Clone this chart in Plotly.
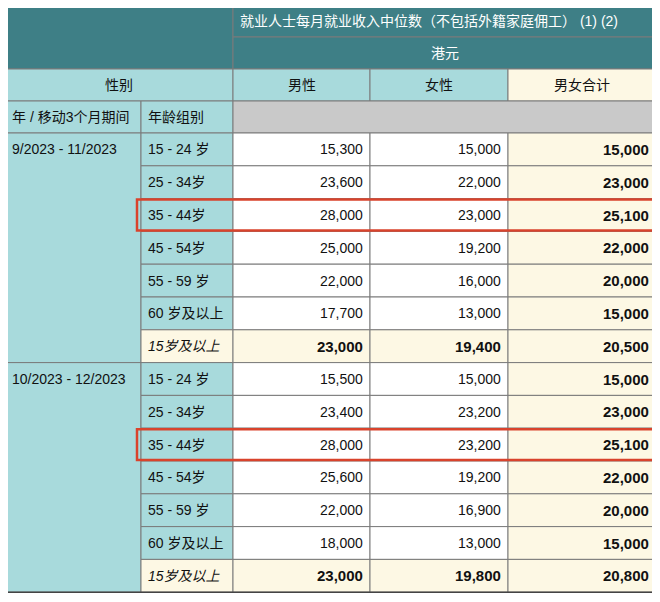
import plotly.graph_objects as go

periods = ["9/2023 - 11/2023", "10/2023 - 12/2023"]
age_groups = ["15 - 24 岁", "25 - 34岁", "35 - 44岁", "45 - 54岁", "55 - 59 岁", "60 岁及以上", "15岁及以上"]
male = [[15300, 23600, 28000, 25000, 22000, 17700, 23000],
        [15500, 23400, 28000, 25600, 22000, 18000, 23000]]
female = [[15000, 22000, 23000, 19200, 16000, 13000, 19400],
          [15000, 23200, 23200, 19200, 16900, 13000, 19800]]
total = [[15000, 23000, 25100, 22000, 20000, 15000, 20500],
         [15000, 23000, 25100, 22000, 20000, 15000, 20800]]
highlight_age = "35 - 44岁"

title = "就业人士每月就业收入中位数（不包括外籍家庭佣工） (1) (2)"
unit = "港元"
sex_labels = ["男性", "女性", "男女合计"]

DARK = "#3e7f86"
LIGHT = "#a8dadc"
CREAM = "#fdf8e4"
GRAY = "#c9c9c9"
LINE = "#7a7a7a"
FONT = "Liberation Sans, Noto Sans CJK SC"

cols = [5, 141, 233, 370, 508, 656]
top = 5
hdr_h = 32
row_h = 32.8
PAD = 8  # page body margin

shapes, ann = [], []


def cell(x0, x1, y0, y1, fill, text="", align="center", color="#111", bold=False, italic=False, size=14):
    shapes.append(dict(type="rect", x0=x0, x1=x1, y0=y0, y1=y1, fillcolor=fill,
                       line=dict(color=LINE, width=1), layer="below"))
    if text:
        if bold:
            text = "<b>" + text + "</b>"
        if italic:
            text = "<i>" + text + "</i>"
        if align == "left":
            x, xa = x0 + 5, "left"
        elif align == "right":
            x, xa = x1 - 5, "right"
        else:
            x, xa = (x0 + x1) / 2, "center"
        ann.append(dict(x=x, y=(y0 + y1) / 2, text=text, showarrow=False, xanchor=xa,
                        yanchor="middle", font=dict(size=size, color=color, family=FONT)))


# header
y = top
cell(cols[0], cols[2], y, y + 2 * hdr_h, DARK)
cell(cols[2], cols[5], y, y + hdr_h, DARK, title, align="left", color="white", size=14)
cell(cols[2], cols[5], y + hdr_h, y + 2 * hdr_h, DARK, unit, color="white")
y += 2 * hdr_h
cell(cols[0], cols[2], y, y + hdr_h, LIGHT, "性别")
for i, s in enumerate(sex_labels):
    cell(cols[2 + i], cols[3 + i], y, y + hdr_h, CREAM if i == 2 else LIGHT, s)
y += hdr_h
cell(cols[0], cols[1], y, y + hdr_h, LIGHT, "年 / 移动3个月期间", align="left")
cell(cols[1], cols[2], y, y + hdr_h, LIGHT, "年龄组别", align="left")
cell(cols[2], cols[5], y, y + hdr_h, GRAY)
y += hdr_h

for p, period in enumerate(periods):
    n = len(age_groups)
    shapes.append(dict(type="rect", x0=cols[0], x1=cols[1], y0=y, y1=y + n * row_h,
                       fillcolor=LIGHT, line=dict(color=LINE, width=1), layer="below"))
    ann.append(dict(x=cols[0] + 5, y=y + row_h / 2, text=period, showarrow=False, xanchor="left",
                    font=dict(size=14, color="#111", family=FONT)))
    for r, age in enumerate(age_groups):
        y0, y1 = y + r * row_h, y + (r + 1) * row_h
        is_tot = r == n - 1
        cell(cols[1], cols[2], y0, y1, CREAM if is_tot else LIGHT, age, align="left", italic=is_tot)
        vals = [male[p][r], female[p][r], total[p][r]]
        for c, v in enumerate(vals):
            fill = CREAM if (is_tot or c == 2) else "white"
            cell(cols[2 + c], cols[3 + c], y0, y1, fill, f"{v:,}", align="right",
                 bold=(is_tot or c == 2), size=15 if (is_tot or c == 2) else 14)
        if age == highlight_age:
            shapes.append(dict(type="rect", x0=cols[1] - 4, x1=cols[5], y0=y0 + 1, y1=y1 - 1,
                               line=dict(color="#d9432c", width=2.5), layer="above"))
    y += n * row_h

# outer border
shapes.append(dict(type="rect", x0=cols[0], x1=cols[5], y0=top, y1=y, line=dict(color="#444", width=1.5)))

fig = go.Figure()
fig.update_layout(
    width=660 - 2 * PAD, height=602 - 2 * PAD, margin=dict(l=0, r=0, t=0, b=0),
    paper_bgcolor="white", plot_bgcolor="white",
    xaxis=dict(range=[PAD, 660 - PAD], visible=False, fixedrange=True),
    yaxis=dict(range=[602 - PAD, PAD], visible=False, fixedrange=True),
    shapes=shapes, annotations=ann, showlegend=False,
)
fig.write_html("out.html")
